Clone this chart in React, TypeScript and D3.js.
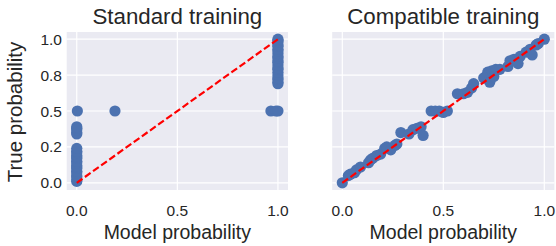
import * as d3 from 'd3';

// standard training: model probability vs true probability
const standardX = [
  0, 0, 0, 0, 0, 0, 0, 0, 0, 0, 0, 0, 0, 0, 0, 0, 0,
  0, 0, 0, 0, 0,
  0.003, 0.19,
  1, 1, 1, 1, 1, 1, 1, 1, 1, 1, 1, 1, 1, 1, 1, 1, 1, 1, 1, 1, 1,
  0.965, 0.99, 1,
];
const standardY = [
  0.01, 0.02, 0.04, 0.05, 0.07, 0.08, 0.1, 0.11, 0.12, 0.14, 0.15, 0.17, 0.18, 0.19, 0.21, 0.22, 0.24,
  0.34, 0.35, 0.37, 0.38, 0.39,
  0.5, 0.5,
  0.69, 0.7, 0.72, 0.73, 0.75, 0.77, 0.79, 0.8, 0.82, 0.84, 0.85, 0.87, 0.88, 0.9, 0.92, 0.93, 0.95, 0.96, 0.98, 0.99, 1,
  0.5, 0.5, 0.5,
];

// compatible training
const compatibleX = [
  0, 0.03, 0.04, 0.06, 0.07, 0.09,
  0.13, 0.14, 0.15, 0.17, 0.19,
  0.21, 0.22, 0.24, 0.26, 0.27,
  0.29, 0.33, 0.35, 0.37, 0.39, 0.4,
  0.44, 0.46, 0.48, 0.5, 0.52,
  0.57, 0.6, 0.62, 0.64, 0.65,
  0.7, 0.72, 0.73, 0.74, 0.76, 0.78, 0.75,
  0.82, 0.83, 0.85, 0.87, 0.88,
  0.91, 0.93, 0.94, 0.96, 0.97, 1,
];
const compatibleY = [
  0, 0.05, 0.06, 0.07, 0.09, 0.11,
  0.14, 0.16, 0.17, 0.19, 0.2,
  0.24, 0.25, 0.23, 0.26, 0.27,
  0.35, 0.34, 0.37, 0.38, 0.39, 0.33,
  0.5, 0.5, 0.5, 0.49, 0.5,
  0.62, 0.62, 0.63, 0.66, 0.69,
  0.73, 0.77, 0.7, 0.78, 0.79, 0.79, 0.74,
  0.81, 0.85, 0.86, 0.83, 0.88,
  0.91, 0.93, 0.89, 0.96, 0.97, 1,
];

const xTicks = [0, 0.5, 1];
const yTicks = [0, 0.25, 0.5, 0.75, 1];
const yTickLabels = ['0.0', '0.2', '0.5', '0.8', '1.0'];

const W = 556;
const H = 246;
const top = 32;
const bottom = 190;
const font = '"Liberation Sans", Arial, sans-serif';
const ink = '#262626';

function Panel({ left, right, title, xs, ys, showY }) {
  const x = d3.scaleLinear().domain([-0.05, 1.05]).range([left, right]);
  const y = d3.scaleLinear().domain([-0.05, 1.05]).range([bottom, top]);
  const diag = d3.line()([[x(0), y(0)], [x(1), y(1)]]);
  return (
    <g>
      <rect x={left} y={top} width={right - left} height={bottom - top} fill="#eaeaf2" />
      {xTicks.map((t) => (
        <line key={'gx' + t} x1={x(t)} x2={x(t)} y1={top} y2={bottom} stroke="#fff" strokeWidth={1.2} />
      ))}
      {yTicks.map((t) => (
        <line key={'gy' + t} x1={left} x2={right} y1={y(t)} y2={y(t)} stroke="#fff" strokeWidth={1.2} />
      ))}
      {xs.map((v, i) => (
        <circle key={i} cx={x(v)} cy={y(ys[i])} r={5.6} fill="#4c72b0" />
      ))}
      <path d={diag} stroke="#ff0000" strokeWidth={2.2} strokeDasharray="7 3" fill="none" />
      {xTicks.map((t) => (
        <text key={'tx' + t} x={x(t)} y={216} textAnchor="middle" fontSize={15.5} fill={ink} fontFamily={font}>
          {d3.format('.1f')(t)}
        </text>
      ))}
      {showY &&
        yTicks.map((t, i) => (
          <text key={'ty' + t} x={62} y={y(t)} dy="0.36em" textAnchor="end" fontSize={15.5} fill={ink} fontFamily={font}>
            {yTickLabels[i]}
          </text>
        ))}
      <text x={(left + right) / 2} y={24} textAnchor="middle" fontSize={22.3} fill={ink} fontFamily={font}>
        {title}
      </text>
      <text x={(left + right) / 2} y={239} textAnchor="middle" fontSize={19.5} fill={ink} fontFamily={font}>
        Model probability
      </text>
    </g>
  );
}

export default function App() {
  return (
    <svg width={W} height={H} style={{ position: 'absolute', left: 0, top: 0, background: '#fff' }}>
      <Panel left={66.7} right={288} title="Standard training" xs={standardX} ys={standardY} showY />
      <Panel left={332.2} right={554.4} title="Compatible training" xs={compatibleX} ys={compatibleY} showY={false} />
      <text
        transform={`translate(22, ${(top + bottom) / 2 + 1}) rotate(-90)`}
        textAnchor="middle"
        fontSize={20.5}
        fill={ink}
        fontFamily={font}
      >
        True probability
      </text>
    </svg>
  );
}
